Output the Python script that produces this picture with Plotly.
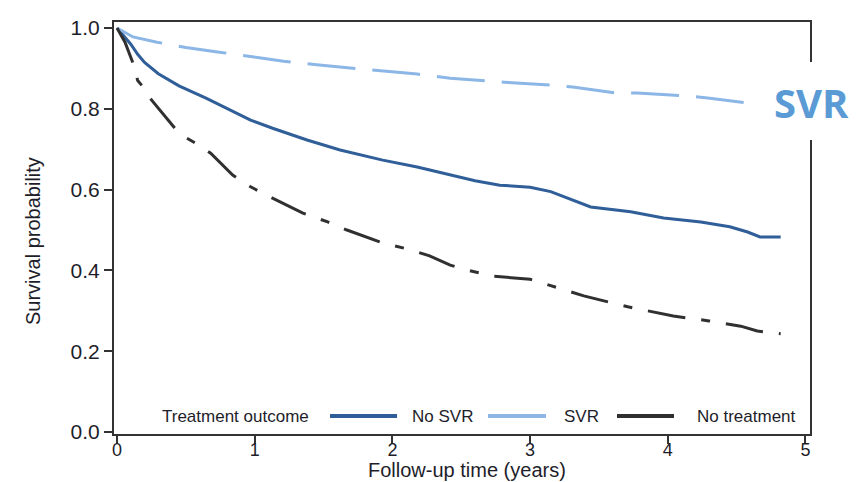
import plotly.graph_objects as go

# ---- data ----
no_svr_x = [0, 0.05, 0.10, 0.15, 0.20, 0.30, 0.45, 0.65, 0.80, 0.97, 1.13, 1.38, 1.62, 1.93,
            2.18, 2.42, 2.60, 2.78, 3.00, 3.15, 3.30, 3.44, 3.73, 3.97, 4.24, 4.45, 4.58, 4.67, 4.82]
no_svr_y = [1.0, 0.98, 0.96, 0.935, 0.915, 0.887, 0.857, 0.826, 0.800, 0.772, 0.752, 0.723, 0.698, 0.673,
            0.656, 0.636, 0.622, 0.611, 0.606, 0.595, 0.575, 0.557, 0.545, 0.530, 0.520, 0.508, 0.495, 0.483, 0.483]

svr_x = [0, 0.116, 0.29, 0.50, 0.73, 1.00, 1.21, 1.45, 1.69, 1.93, 2.18, 2.42, 2.66, 2.81,
         3.15, 3.31, 3.63, 3.78, 4.14, 4.29, 4.62]
svr_y = [1.0, 0.978, 0.965, 0.952, 0.941, 0.928, 0.918, 0.909, 0.901, 0.893, 0.886, 0.876, 0.869, 0.866,
         0.859, 0.854, 0.839, 0.839, 0.832, 0.827, 0.813]

notreat_x = [0, 0.058, 0.116, 0.15, 0.19, 0.25, 0.42, 0.49, 0.57, 0.68, 0.84, 0.97, 1.11, 1.35, 1.53,
             1.67, 1.93, 2.11, 2.27, 2.42, 2.54, 2.73, 3.00, 3.20, 3.39, 3.71, 4.04, 4.30, 4.53, 4.65, 4.82]
notreat_y = [1.0, 0.965, 0.913, 0.87, 0.854, 0.822, 0.752, 0.731, 0.715, 0.69, 0.636, 0.607, 0.582, 0.542, 0.52,
             0.50, 0.468, 0.453, 0.436, 0.413, 0.401, 0.386, 0.378, 0.356, 0.337, 0.31, 0.287, 0.275, 0.262, 0.25, 0.243]

x_ticks = [0, 1, 2, 3, 4, 5]
y_ticks = [0.0, 0.2, 0.4, 0.6, 0.8, 1.0]
y_tick_text = ["0.0", "0.2", "0.4", "0.6", "0.8", "1.0"]

x_title = "Follow-up time (years)"
y_title = "Survival probability"
legend_title = "Treatment outcome"
series_names = ["No SVR", "SVR", "No treatment"]

C_NOSVR = "#2f5e98"
C_SVR = "#8bb6e6"
C_NOT = "#303030"
TXT = "#1e1e2a"
FONT = "Liberation Sans, Arial, sans-serif"

fig = go.Figure()
fig.add_trace(go.Scatter(x=no_svr_x, y=no_svr_y, mode="lines", name=series_names[0],
                         line=dict(color=C_NOSVR, width=3), showlegend=False))
fig.add_trace(go.Scatter(x=svr_x, y=svr_y, mode="lines", name=series_names[1],
                         line=dict(color=C_SVR, width=3, dash="48px,17px"), showlegend=False))
fig.add_trace(go.Scatter(x=notreat_x, y=notreat_y, mode="lines", name=series_names[2],
                         line=dict(color=C_NOT, width=3, dash="38px,16px,9px,16px"), showlegend=False))

def px(x):
    return (x - 114) / 696

def py(y):
    return (434 - y) / 412

shapes = []
annotations = []

# axis titles
annotations.append(dict(x=px(467), y=py(470), xref="paper", yref="paper", text=x_title,
                        showarrow=False, xanchor="center", yanchor="middle",
                        font=dict(family=FONT, size=20, color=TXT)))
annotations.append(dict(x=px(33), y=py(241), xref="paper", yref="paper", text=y_title,
                        showarrow=False, xanchor="center", yanchor="middle", textangle=-90,
                        font=dict(family=FONT, size=20, color=TXT)))

# ---- legend drawn inside plot (samples + labels) ----
leg_y = py(416)
annotations.append(dict(x=px(160), y=leg_y, xref="paper", yref="paper", text=legend_title,
                        showarrow=False, xanchor="left", yanchor="middle",
                        font=dict(family=FONT, size=17, color=TXT)))
leg_items = [(330, 397, 410, C_NOSVR), (488, 546, 562, C_SVR), (617, 674, 695, C_NOT)]
for (s0, s1, tx, col), name in zip(leg_items, series_names):
    shapes.append(dict(type="line", xref="paper", yref="paper", x0=px(s0), x1=px(s1),
                       y0=leg_y, y1=leg_y, line=dict(color=col, width=4)))
    annotations.append(dict(x=px(tx), y=leg_y, xref="paper", yref="paper", text=name,
                            showarrow=False, xanchor="left", yanchor="middle",
                            font=dict(family=FONT, size=17, color=TXT)))

# white box with SVR label on the right
shapes.append(dict(type="rect", xref="paper", yref="paper", x0=px(752), x1=px(866),
                   y0=py(140), y1=py(62), fillcolor="white",
                   line=dict(width=0), layer="above"))
annotations.append(dict(x=px(812), y=py(102), xref="paper", yref="paper", text="<b>SVR</b>",
                        showarrow=False, xanchor="center", yanchor="middle",
                        font=dict(family="Open Sans, sans-serif", size=40, color="#5b9bd5")))

fig.update_layout(
    width=865, height=482,
    margin=dict(l=114, r=55, t=22, b=48, autoexpand=False),
    paper_bgcolor="white", plot_bgcolor="white",
    showlegend=False,
    shapes=shapes, annotations=annotations,
    xaxis=dict(range=[-0.022, 5.033], tickvals=x_ticks, ticks="outside", ticklen=8, tickwidth=2,
               tickcolor="#333", showline=True, linecolor="#333", linewidth=2, mirror=True,
               showgrid=False, zeroline=False, automargin=False, ticklabelstandoff=-10,
               tickfont=dict(family=FONT, size=18, color=TXT)),
    yaxis=dict(range=[-0.005, 1.015], tickvals=y_ticks, ticktext=y_tick_text, ticks="outside",
               ticklen=8, tickwidth=2, tickcolor="#333", showline=True, linecolor="#333",
               linewidth=2, mirror=True, showgrid=False, zeroline=False, automargin=False,
               tickfont=dict(family=FONT, size=21, color=TXT)),
)

fig.write_html("out.html")
